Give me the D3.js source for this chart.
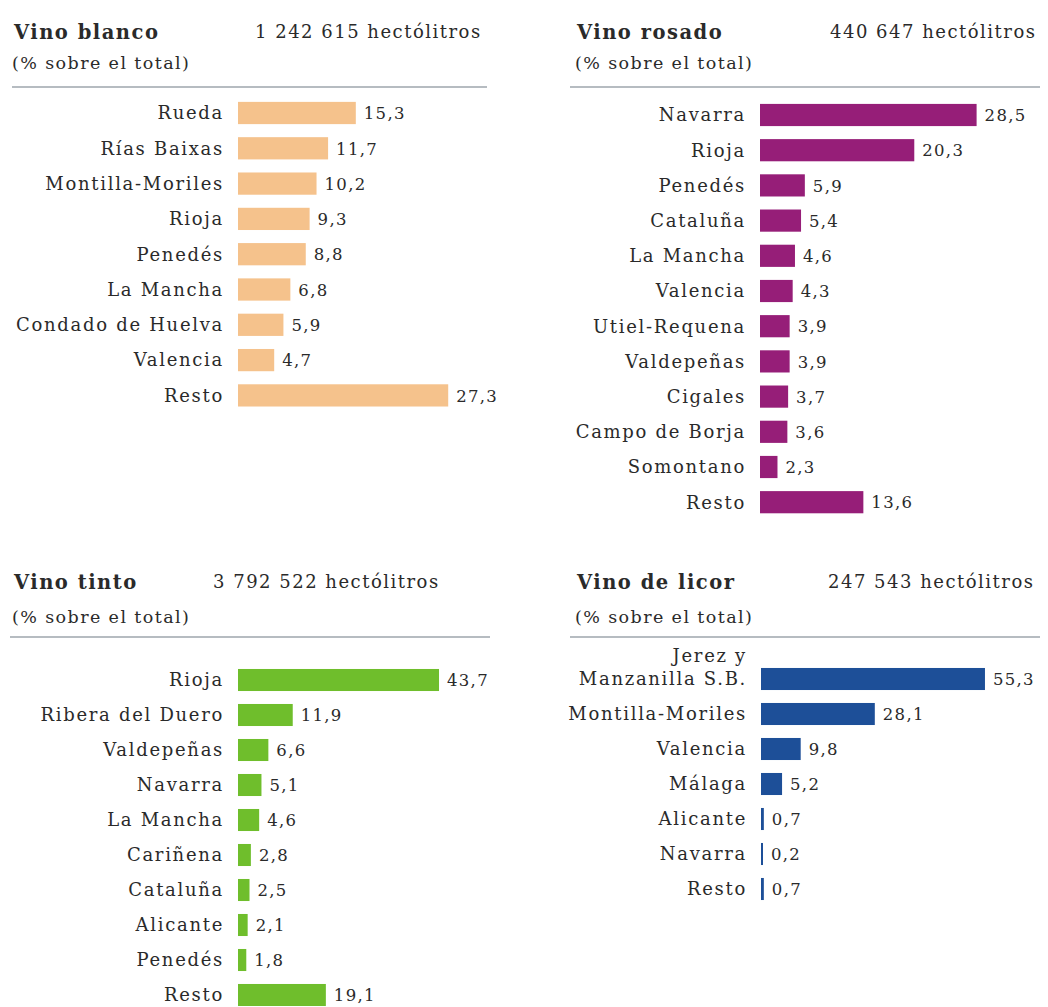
<!DOCTYPE html>
<html>
<head>
<meta charset="utf-8">
<script src="https://cdn.jsdelivr.net/npm/d3@7"></script>
<style>
  body { margin: 0; background: #fff; }
  svg text { font-family: 'DejaVu Serif', serif; fill: #2a2a2a; }
</style>
</head>
<body>
<svg id="chart" width="1048" height="1007"></svg>
<script>
const blancoRegions = ['Rueda', 'Rías Baixas', 'Montilla-Moriles', 'Rioja', 'Penedés', 'La Mancha', 'Condado de Huelva', 'Valencia', 'Resto'];
const blancoValues = [15.3, 11.7, 10.2, 9.3, 8.8, 6.8, 5.9, 4.7, 27.3];

const rosadoRegions = ['Navarra', 'Rioja', 'Penedés', 'Cataluña', 'La Mancha', 'Valencia', 'Utiel-Requena', 'Valdepeñas', 'Cigales', 'Campo de Borja', 'Somontano', 'Resto'];
const rosadoValues = [28.5, 20.3, 5.9, 5.4, 4.6, 4.3, 3.9, 3.9, 3.7, 3.6, 2.3, 13.6];

const tintoRegions = ['Rioja', 'Ribera del Duero', 'Valdepeñas', 'Navarra', 'La Mancha', 'Cariñena', 'Cataluña', 'Alicante', 'Penedés', 'Resto'];
const tintoValues = [43.7, 11.9, 6.6, 5.1, 4.6, 2.8, 2.5, 2.1, 1.8, 19.1];

const licorRegions = ['Jerez y\nManzanilla S.B.', 'Montilla-Moriles', 'Valencia', 'Málaga', 'Alicante', 'Navarra', 'Resto'];
const licorValues = [55.3, 28.1, 9.8, 5.2, 0.7, 0.2, 0.7];

const panelTitles = ['Vino blanco', 'Vino rosado', 'Vino tinto', 'Vino de licor'];
const panelTotals = ['1 242 615 hectólitros', '440 647 hectólitros', '3 792 522 hectólitros', '247 543 hectólitros'];
const subtitle = '(% sobre el total)';

// layout for each of the four small charts
const panels = [
  {regions: blancoRegions, values: blancoValues, color: '#f5c28c',
   left: 14, ruleX: [12, 487], totalX: 255, titleY: 32, subY: 63, ruleY: 87,
   firstRow: 113, step: 35.3, barX: 238, xMax: 30, xWidth: 231},
  {regions: rosadoRegions, values: rosadoValues, color: '#961e78',
   left: 577, ruleX: [570, 1040], totalX: 830, titleY: 32, subY: 63, ruleY: 87,
   firstRow: 115, step: 35.2, barX: 760, xMax: 30, xWidth: 228},
  {regions: tintoRegions, values: tintoValues, color: '#6fbe2c',
   left: 14, ruleX: [10, 490], totalX: 213, titleY: 582, subY: 617, ruleY: 637,
   firstRow: 680, step: 35, barX: 238, xMax: 50, xWidth: 230},
  {regions: licorRegions, values: licorValues, color: '#1d4f98',
   left: 577, ruleX: [570, 1040], totalX: 828, titleY: 582, subY: 617, ruleY: 637,
   firstRow: 679, step: 35, barX: 761, xMax: 60, xWidth: 243},
];

const svg = d3.select('#chart');
const fmt = (v) => d3.format('.1f')(v).replace('.', ',');

panels.forEach((p, k) => {
  const g = svg.append('g');

  g.append('text')
    .attr('x', p.left).attr('y', p.titleY).attr('dy', '0.35em')
    .attr('font-size', 19.5).attr('font-weight', 'bold')
    .attr('letter-spacing', 1.5)
    .text(panelTitles[k]);

  g.append('text')
    .attr('x', p.totalX).attr('y', p.titleY).attr('dy', '0.35em')
    .attr('font-size', 18).attr('letter-spacing', 1.5)
    .text(panelTotals[k]);

  g.append('text')
    .attr('x', p.left - 2).attr('y', p.subY).attr('dy', '0.35em')
    .attr('font-size', 17.5).attr('letter-spacing', 1.4)
    .text(subtitle);

  g.append('line')
    .attr('x1', p.ruleX[0]).attr('x2', p.ruleX[1])
    .attr('y1', p.ruleY).attr('y2', p.ruleY)
    .attr('stroke', '#9ea6ad').attr('stroke-width', 1.5);

  const n = p.regions.length;
  const y = d3.scaleBand()
    .domain(d3.range(n))
    .range([p.firstRow - p.step / 2, p.firstRow - p.step / 2 + n * p.step])
    .paddingInner(0.37).paddingOuter(0.185);
  const x = d3.scaleLinear().domain([0, p.xMax]).range([p.barX, p.barX + p.xWidth]);

  const rows = g.selectAll('g.row')
    .data(p.values)
    .join('g')
    .attr('class', 'row');

  rows.append('rect')
    .attr('x', x(0))
    .attr('y', (d, i) => y(i))
    .attr('width', (d) => Math.max(2, x(d) - x(0)))
    .attr('height', y.bandwidth())
    .attr('fill', p.color);

  rows.append('text')
    .attr('x', (d) => x(0) + Math.max(2, x(d) - x(0)) + 8)
    .attr('y', (d, i) => y(i) + y.bandwidth() / 2)
    .attr('dy', '0.38em')
    .attr('font-size', 16.5).attr('letter-spacing', 1.3)
    .text(fmt);

  rows.each(function (d, i) {
    const lines = p.regions[i].split('\n');
    const t = d3.select(this).append('text')
      .attr('y', y(i) + y.bandwidth() / 2)
      .attr('text-anchor', 'end')
      .attr('font-size', 18).attr('letter-spacing', 1.7);
    lines.forEach((line, j) => {
      t.append('tspan')
        .attr('x', x(0) - 14)
        .attr('dy', j === 0 ? `${0.35 - (lines.length - 1) * 1.3}em` : '1.3em')
        .text(line);
    });
  });
});
</script>
</body>
</html>
